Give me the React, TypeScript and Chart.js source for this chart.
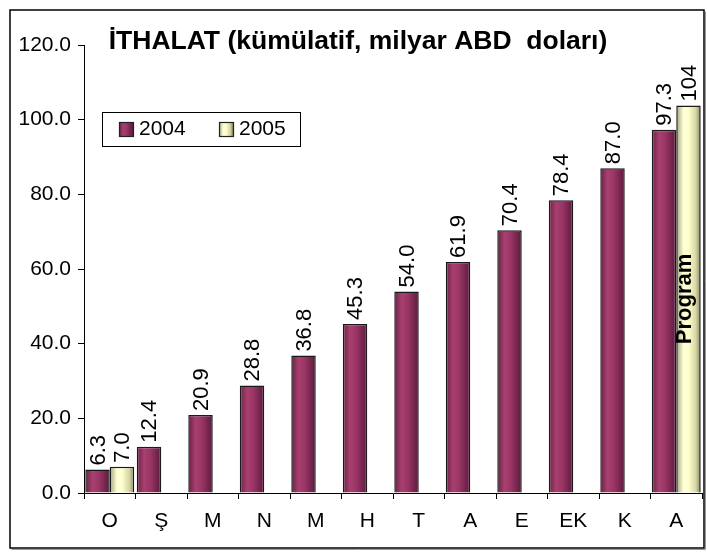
import React, { useEffect, useRef } from "react";
import { Chart, registerables } from "chart.js";

Chart.register(...registerables);

const categories = ["O", "Ş", "M", "N", "M", "H", "T", "A", "E", "EK", "K", "A"];
const values2004 = [6.3, 12.4, 20.9, 28.8, 36.8, 45.3, 54.0, 61.9, 70.4, 78.4, 87.0, 97.3];
const values2005: (number | null)[] = [7.0, null, null, null, null, null, null, null, null, null, null, 103.8];
const labels2004 = ["6.3", "12.4", "20.9", "28.8", "36.8", "45.3", "54.0", "61.9", "70.4", "78.4", "87.0", "97.3"];
const labels2005: (string | null)[] = ["7.0", null, null, null, null, null, null, null, null, null, null, "104"];
const seriesNames = ["2004", "2005"];
const titleText = "İTHALAT (kümülatif, milyar ABD  doları)";
const programText = "Program";
const yMin = 0;
const yMax = 120;
const yStep = 20;

const FONT = "'Liberation Sans', Arial, sans-serif";
const CAT_PCT = 0.95;

const maroonStops: [number, string][] = [
  [0, "#6a2046"],
  [0.3, "#a8406f"],
  [0.55, "#9b3566"],
  [1, "#5a1a3c"],
];
const yellowStops: [number, string][] = [
  [0, "#a4a47c"],
  [0.3, "#ffffd8"],
  [0.5, "#ffffcc"],
  [0.8, "#d6d6a6"],
  [1, "#85855f"],
];

function makeGradient(ctx: CanvasRenderingContext2D, x0: number, x1: number, stops: [number, string][]) {
  const g = ctx.createLinearGradient(x0, 0, x1, 0);
  stops.forEach(([o, c]) => g.addColorStop(o, c));
  return g;
}

function barFill(stops: [number, string][], flat: string, dsIndex: number) {
  return (c: any) => {
    const chart = c.chart;
    const xs = chart.scales && chart.scales.x;
    if (c.type !== "data" || !xs || !xs.width) return flat;
    const center = xs.getPixelForValue(c.dataIndex);
    const catW = xs.width / categories.length;
    const barW = (catW * CAT_PCT) / 2;
    const x0 = center + (dsIndex - 1) * barW;
    return makeGradient(chart.ctx, x0, x0 + barW, stops);
  };
}

const framePlugin = {
  id: "frame",
  beforeDraw(chart: any) {
    const ctx = chart.ctx;
    ctx.save();
    ctx.fillStyle = "#ffffff";
    ctx.fillRect(0, 0, chart.width, chart.height);
    ctx.strokeStyle = "#9a9a9a";
    ctx.lineWidth = 1;
    ctx.beginPath();
    ctx.moveTo(11.5, 549.5);
    ctx.lineTo(705.5, 549.5);
    ctx.lineTo(705.5, 11.5);
    ctx.stroke();
    ctx.strokeStyle = "#000000";
    ctx.lineWidth = 1.5;
    ctx.strokeRect(10, 10, 694, 538);
    ctx.restore();
  },
};

const overlayPlugin = {
  id: "overlay",
  afterDatasetsDraw(chart: any) {
    const ctx = chart.ctx;
    ctx.save();
    const allLabels = [labels2004, labels2005];
    ctx.fillStyle = "#000";
    ctx.font = `22px ${FONT}`;
    ctx.textAlign = "left";
    ctx.textBaseline = "middle";
    allLabels.forEach((labels, di) => {
      const meta = chart.getDatasetMeta(di);
      meta.data.forEach((el: any, i: number) => {
        const t = labels[i];
        if (t == null) return;
        ctx.save();
        ctx.translate(el.x, el.y - 4);
        ctx.rotate(-Math.PI / 2);
        ctx.fillText(t, 0, 1);
        ctx.restore();
      });
    });
    const meta5 = chart.getDatasetMeta(1);
    const last = meta5.data[categories.length - 1];
    if (last) {
      ctx.save();
      ctx.font = `bold 22px ${FONT}`;
      ctx.textAlign = "center";
      ctx.textBaseline = "middle";
      ctx.translate(last.x - 4, (last.y + last.base) / 2);
      ctx.rotate(-Math.PI / 2);
      ctx.fillText(programText, 0, 0);
      ctx.restore();
    }
    ctx.restore();
  },
  afterDraw(chart: any) {
    const ctx = chart.ctx;
    ctx.save();
    ctx.fillStyle = "#000";
    ctx.font = `bold 26.5px ${FONT}`;
    ctx.textAlign = "center";
    ctx.textBaseline = "middle";
    ctx.fillText(titleText, 358, 42);
    ctx.fillStyle = "#fff";
    ctx.fillRect(102, 112, 198, 34);
    ctx.strokeStyle = "#000";
    ctx.lineWidth = 1;
    ctx.strokeRect(102.5, 112.5, 198, 34);
    const items = [
      { x: 119, stops: maroonStops, name: seriesNames[0] },
      { x: 219, stops: yellowStops, name: seriesNames[1] },
    ];
    items.forEach((it) => {
      ctx.fillStyle = makeGradient(ctx, it.x, it.x + 14, it.stops);
      ctx.fillRect(it.x, 122, 14, 14);
      ctx.strokeStyle = "#222";
      ctx.lineWidth = 1.2;
      ctx.strokeRect(it.x + 0.5, 122.5, 14, 14);
      ctx.fillStyle = "#000";
      ctx.font = `21px ${FONT}`;
      ctx.textAlign = "left";
      ctx.textBaseline = "middle";
      ctx.fillText(it.name, it.x + 20, 129.5);
    });
    ctx.restore();
  },
};

export default function App() {
  const ref = useRef<HTMLCanvasElement | null>(null);
  useEffect(() => {
    document.body.style.margin = "0";
    const canvas = ref.current;
    if (!canvas) return;
    const chart = new Chart(canvas, {
      type: "bar",
      data: {
        labels: categories,
        datasets: [
          {
            label: seriesNames[0],
            data: values2004,
            backgroundColor: barFill(maroonStops, "#993366", 0),
            borderColor: "#1a1a1a",
            borderWidth: 1.5,
            categoryPercentage: CAT_PCT,
            barPercentage: 1,
          },
          {
            label: seriesNames[1],
            data: values2005,
            backgroundColor: barFill(yellowStops, "#ffffcc", 1),
            borderColor: "#1a1a1a",
            borderWidth: 1.5,
            categoryPercentage: CAT_PCT,
            barPercentage: 1,
          },
        ],
      },
      options: {
        responsive: false,
        animation: false,
        devicePixelRatio: 1,
        layout: { padding: { top: 45, right: 5, left: 0, bottom: 0 } },
        plugins: {
          legend: { display: false },
          title: { display: false },
          tooltip: { enabled: false },
        },
        scales: {
          x: {
            grid: {
              display: true,
              drawOnChartArea: false,
              drawTicks: true,
              tickLength: 6,
              color: "#000",
              offset: true,
            },
            border: { color: "#000", width: 1 },
            ticks: {
              color: "#000",
              font: { family: FONT, size: 21 },
              padding: 10,
              maxRotation: 0,
              autoSkip: false,
            },
            afterFit: (s: any) => {
              s.height = 59;
            },
          },
          y: {
            min: yMin,
            max: yMax,
            grid: {
              display: true,
              drawOnChartArea: false,
              drawTicks: true,
              tickLength: 6,
              color: "#000",
            },
            border: { color: "#000", width: 1 },
            ticks: {
              stepSize: yStep,
              color: "#000",
              font: { family: FONT, size: 21 },
              padding: 7,
              callback: (v: any) => Number(v).toFixed(1),
            },
            afterFit: (s: any) => {
              s.width = 84;
            },
          },
        },
      },
      plugins: [framePlugin, overlayPlugin],
    });
    return () => chart.destroy();
  }, []);
  return (
    <div style={{ width: 707, height: 552 }}>
      <canvas ref={ref} width={707} height={552} style={{ display: "block" }} />
    </div>
  );
}
